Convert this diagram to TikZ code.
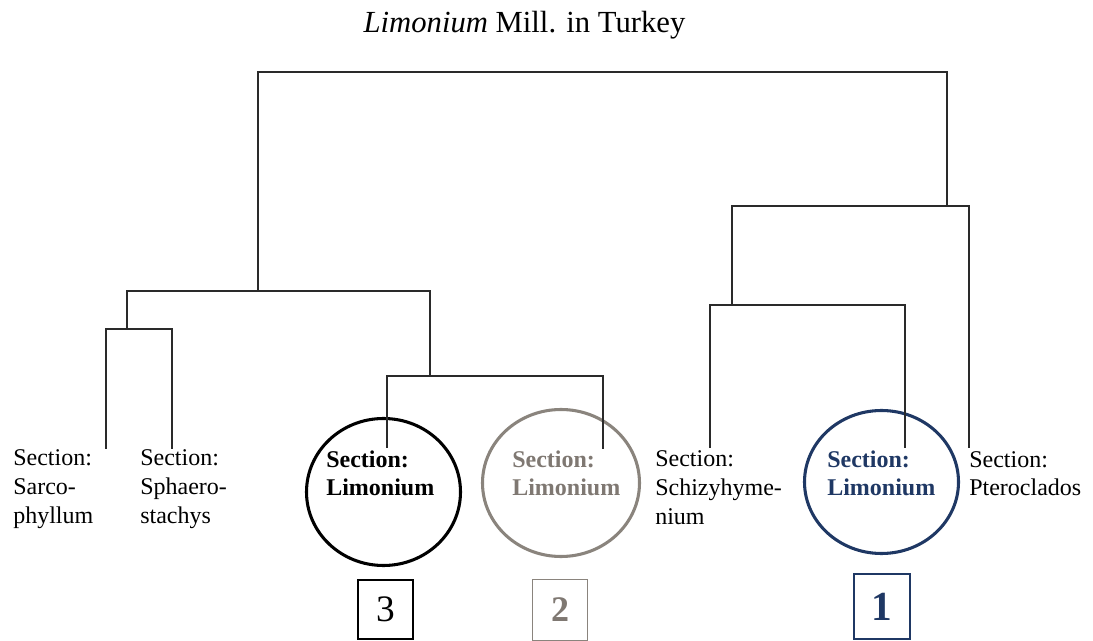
\documentclass[tikz,border=0pt]{standalone}
\usepackage{fontspec}
\setmainfont{Liberation Serif}
\usetikzlibrary{shapes.geometric}
\definecolor{navy}{HTML}{1F3864}
\definecolor{warmgray}{HTML}{7F7872}
\definecolor{circgray}{HTML}{8A847D}
\definecolor{linecol}{HTML}{2A2A2A}
\begin{document}
\begin{tikzpicture}[x=0.75pt,y=-0.75pt,
  branch/.style={draw=linecol, line width=1.5pt},
  sectxt/.style={anchor=base west, inner sep=0pt, align=left, font=\fontsize{18}{21.5}\selectfont},
  secbold/.style={sectxt, font=\fontsize{18}{21.5}\selectfont\bfseries},
  ring/.style={ellipse, draw, line width=2.3pt, inner sep=0pt},
  numbox/.style={draw, line width=1.4pt, inner sep=0pt, minimum width=41.5pt},
]
\useasboundingbox (0,0) rectangle (1093,641);

% title
\node[anchor=base, inner sep=0pt, font=\fontsize{23}{28}\selectfont] (title) at (524.5,33) {\textit{Limonium} Mill. in Turkey};

% rings
\node[ring, draw=black, minimum width=115.5pt, minimum height=110.25pt] (c3) at (383.5,492) {};
\node[ring, draw=circgray, minimum width=117.75pt, minimum height=110.25pt] (c2) at (561,483) {};
\node[ring, draw=navy, minimum width=115.5pt, minimum height=107.25pt] (c1) at (881.5,482) {};

% dendrogram joints
\coordinate (j0L) at (258,72);  \coordinate (j0R) at (947,72);
\coordinate (j1) at (258,291);  \coordinate (j1L) at (127,291); \coordinate (j1R) at (430,291);
\coordinate (j2) at (127,329);  \coordinate (j2L) at (106,329); \coordinate (j2R) at (172,329);
\coordinate (tSarco) at (106,449); \coordinate (tSphaero) at (172,449);
\coordinate (j3) at (430,376);  \coordinate (j3L) at (387,376); \coordinate (j3R) at (603,376);
\coordinate (t3) at (387,448);  \coordinate (t2) at (603,449);
\coordinate (j4) at (947,206);  \coordinate (j4L) at (732,206); \coordinate (j4R) at (969,206);
\coordinate (j5) at (732,305);  \coordinate (j5L) at (710,305); \coordinate (j5R) at (905,305);
\coordinate (tSchizy) at (710,448); \coordinate (t1) at (905,448); \coordinate (tPtero) at (969,448);

\draw[branch] (j1) -- (j0L) -- (j0R) -- (j4);
\draw[branch] (j2) -- (j1L) -- (j1R) -- (j3);
\draw[branch] (tSarco) -- (j2L) -- (j2R) -- (tSphaero);
\draw[branch] (t3) -- (j3L) -- (j3R) -- (t2);
\draw[branch] (j5) -- (j4L) -- (j4R) -- (tPtero);
\draw[branch] (tSchizy) -- (j5L) -- (j5R) -- (t1);

% labels (anchored at the baseline of the last line)
\node[sectxt] (sarco) at (13,523) {Section:\\Sarco-\\phyllum};
\node[sectxt] (sphaero) at (140,523) {Section:\\Sphaero-\\stachys};
\node[secbold] (lim3) at (326,496) {Section:\\Limonium};
\node[secbold, text=warmgray] (lim2) at (512,496) {Section:\\Limonium};
\node[sectxt] (schizy) at (655,524) {Section:\\Schizyhyme-\\nium};
\node[secbold, text=navy] (lim1) at (827,496) {Section:\\Limonium};
\node[sectxt] (ptero) at (969,496) {Section:\\Pteroclados};

% number boxes
\node[numbox, draw=black, minimum height=44.25pt, font=\fontsize{28}{28}\selectfont] (n3) at (385.5,609.5) {3};
\node[numbox, draw=circgray, line width=1.2pt, minimum height=45.75pt, text=warmgray, font=\fontsize{27}{27}\selectfont\bfseries] (n2) at (560,610) {2};
\node[numbox, draw=navy, minimum height=48.75pt, text=navy, font=\fontsize{31}{31}\selectfont\bfseries] (n1) at (882,606.5) {1};
\end{tikzpicture}
\end{document}
